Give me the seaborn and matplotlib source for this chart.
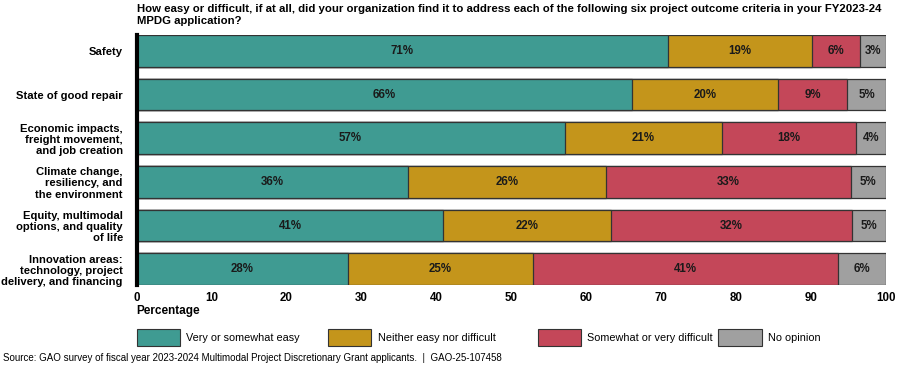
import numpy as np
import pandas as pd
import matplotlib
matplotlib.use("Agg")
import matplotlib.pyplot as plt
from matplotlib.patches import Patch
import seaborn as sns

# Survey responses (percent of applicants)
criteria = [
    "Safety",
    "State of good repair",
    "Economic impacts,\nfreight movement,\nand job creation",
    "Climate change,\nresiliency, and\nthe environment",
    "Equity, multimodal\noptions, and quality\nof life",
    "Innovation areas:\ntechnology, project\ndelivery, and financing",
]
responses = ["Very or somewhat easy", "Neither easy nor difficult",
             "Somewhat or very difficult", "No opinion"]
easy = [70.9, 66.1, 57.1, 36.2, 40.9, 28.2]
neither = [19.2, 19.5, 21.0, 26.4, 22.4, 24.7]
difficult = [6.4, 9.2, 17.9, 32.7, 32.2, 40.7]
no_opinion = [3.5, 5.2, 4.0, 4.7, 4.5, 6.4]
# printed labels (rounded in the source)
easy_lbl = ["71%", "66%", "57%", "36%", "41%", "28%"]
neither_lbl = ["19%", "20%", "21%", "26%", "22%", "25%"]
difficult_lbl = ["6%", "9%", "18%", "33%", "32%", "41%"]
no_opinion_lbl = ["3%", "5%", "4%", "5%", "5%", "6%"]

colors = ["#3f9b92", "#c4951b", "#c44759", "#a0a0a0"]

sns.set_theme(style="white")
plt.rcParams["font.family"] = ["Liberation Sans", "DejaVu Sans"]
plt.rcParams["text.color"] = "black"
plt.rcParams["xtick.color"] = "black"
plt.rcParams["ytick.color"] = "black"

df = pd.DataFrame({"criterion": criteria, "easy": easy, "neither": neither,
                   "difficult": difficult, "no_opinion": no_opinion})
series = ["easy", "neither", "difficult", "no_opinion"]
labels = [easy_lbl, neither_lbl, difficult_lbl, no_opinion_lbl]
cum = df[series].cumsum(axis=1)
start = cum - df[series].values

fig = plt.figure(figsize=(8.99, 3.70), dpi=100)
ax = fig.add_axes([0.152, 0.230, 0.8335, 0.675])

# draw cumulative bars from the outermost segment inwards
for s, c in reversed(list(zip(series, colors))):
    sns.barplot(x=cum[s], y=df["criterion"], color=c, orient="h", width=0.72,
                edgecolor="#333333", linewidth=0.9, saturation=1, ax=ax)

for s, lbl in zip(series, labels):
    centers = start[s] + df[s] / 2
    for i, (cx, t) in enumerate(zip(centers, lbl)):
        ax.text(cx, i, t, ha="center", va="center", fontsize=8.3,
                fontweight="bold", color="#1a1a1a")

ax.set_xlim(0, 100)
ax.set_ylim(5.36, -0.36)
ax.set_xticks(range(0, 101, 10))
ax.set_xlabel("")
ax.set_ylabel("")
ax.tick_params(axis="x", length=0, labelsize=8.3, pad=5)
ax.tick_params(axis="y", length=0, labelsize=8.1, pad=10)
for lab in ax.get_xticklabels() + ax.get_yticklabels():
    lab.set_fontweight("bold")
for lab in ax.get_yticklabels():
    lab.set_linespacing(1.15)
for sp in ["top", "right", "bottom"]:
    ax.spines[sp].set_visible(False)
ax.spines["left"].set_linewidth(3)
ax.spines["left"].set_color("black")

fig.text(0.152, 0.16, "Percentage", fontsize=8.5, fontweight="bold", ha="left", va="center")

fig.text(0.152, 0.99,
         "How easy or difficult, if at all, did your organization find it to address each of the following six project outcome criteria in your FY2023-24\nMPDG application?",
         fontsize=8.2, fontweight="bold", ha="left", va="top", linespacing=1.3)

# legend entries placed one by one, as in the source layout
legend_x = [0.152, 0.365, 0.598, 0.799]
for c, r, lx in zip(colors, responses, legend_x):
    h = Patch(facecolor=c, edgecolor="#333333", linewidth=0.8, label=r)
    fig.legend(handles=[h], loc="center left", bbox_to_anchor=(lx, 0.088),
               frameon=False, fontsize=7.8, handlelength=4.0, handleheight=2.1,
               handletextpad=0.6, borderpad=0, borderaxespad=0)

fig.text(0.003, 0.018,
         "Source: GAO survey of fiscal year 2023-2024 Multimodal Project Discretionary Grant applicants.  |  GAO-25-107458",
         fontsize=7, ha="left", va="bottom")

fig.savefig("out.png", dpi=100)
